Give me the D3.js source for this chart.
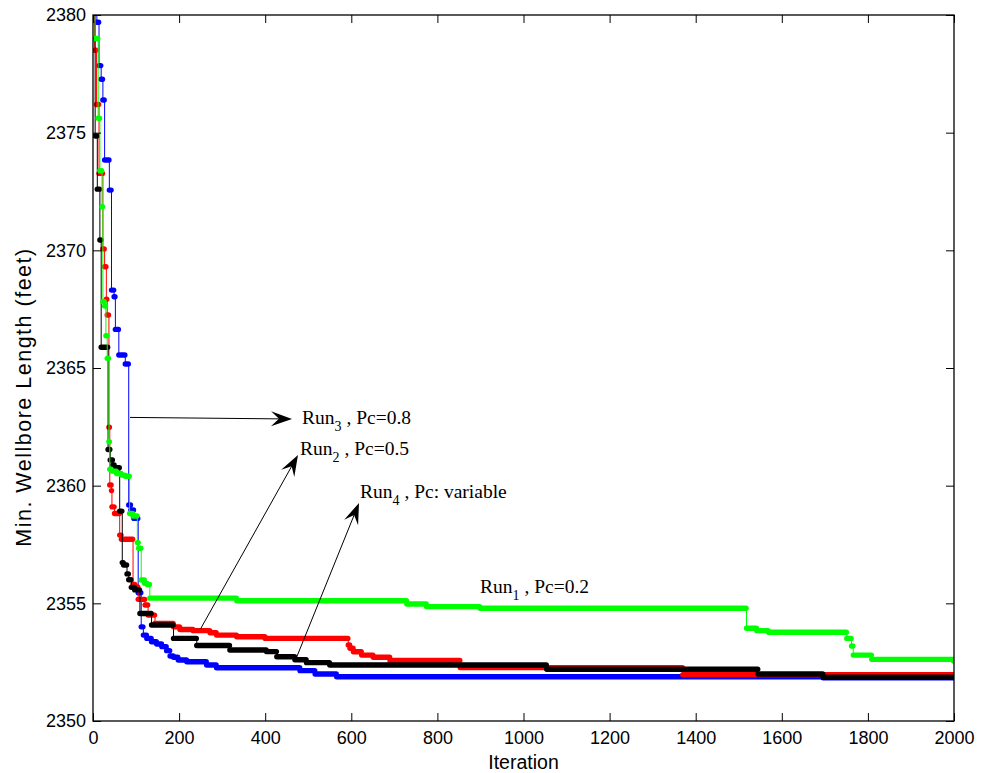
<!DOCTYPE html>
<html><head><meta charset="utf-8">
<script src="https://cdn.jsdelivr.net/npm/d3@7"></script>
<style>body{margin:0;background:#fff}svg{display:block}</style>
</head><body>
<script>
// ---- data: [iteration, best value] at each change of the running minimum ----
const run1Steps = [[1,2385],[5,2379],[12,2375.61],[16,2373.38],[21,2371.85],[23,2367.82],[27,2367.63],[30,2366.37],[33,2365.41],[37,2361.87],[39,2360.7],[43,2360.62],[55,2360.52],[66,2360.45],[75,2360.4],[85,2358.82],[93,2358.71],[103,2357.58],[106,2357.34],[112,2355.99],[120,2355.85],[126,2355.8],[132,2355.22],[334,2355.11],[729,2354.97],[775,2354.86],[899,2354.79],[1518,2353.94],[1542,2353.84],[1569,2353.77],[1751,2353.51],[1762,2353.19],[1766,2352.8],[1809,2352.62],[1999,2352.55]];
const run2Steps = [[1,2385],[4,2378.5],[8,2376.2],[14,2373.27],[23,2370.06],[27,2369.3],[31,2367.92],[33,2367.25],[37,2362.48],[39,2360.03],[43,2359.79],[44,2359.1],[50,2358.82],[62,2357.9],[66,2357.72],[93,2355.8],[98,2355.7],[105,2355.17],[121,2354.93],[128,2354.5],[144,2354.15],[187,2354.0],[202,2353.89],[233,2353.84],[272,2353.75],[287,2353.65],[334,2353.58],[400,2353.51],[593,2353.23],[597,2353.09],[605,2352.94],[624,2352.8],[651,2352.71],[690,2352.57],[853,2352.27],[1370,2351.97]];
const run3Steps = [[1,2384.5],[9,2379.69],[14,2377.85],[19,2377.27],[23,2376.39],[27,2373.84],[38,2372.56],[43,2368.31],[49,2368.03],[52,2366.64],[60,2365.55],[75,2365.17],[83,2359.18],[88,2358.97],[95,2358.61],[105,2355.45],[112,2354.0],[117,2353.65],[125,2353.51],[136,2353.37],[148,2353.27],[160,2353.16],[171,2352.99],[179,2352.76],[187,2352.71],[198,2352.59],[218,2352.52],[264,2352.38],[287,2352.26],[481,2352.14],[516,2352.0],[566,2351.88],[1696,2351.84]];
const run4Steps = [[1,2386],[5,2374.86],[10,2372.6],[16,2370.44],[19,2365.88],[35,2361.54],[40,2361.09],[46,2360.88],[50,2360.76],[62,2358.92],[68,2356.73],[71,2356.63],[79,2356.25],[83,2356.0],[89,2355.68],[97,2355.57],[109,2354.57],[136,2354.08],[187,2353.51],[241,2353.21],[318,2353.02],[403,2352.95],[427,2352.73],[469,2352.6],[496,2352.48],[550,2352.38],[1054,2352.2],[1545,2352.0],[1696,2351.86]];

const xTicks = [0,200,400,600,800,1000,1200,1400,1600,1800,2000];
const yTicks = [2350,2355,2360,2365,2370,2375,2380];
const xDomain = [0,2000], yDomain = [2350,2380];

const series = [
  {name:"Run3", steps:run3Steps, color:"#0000ff"},
  {name:"Run2", steps:run2Steps, color:"#ff0000"},
  {name:"Run4", steps:run4Steps, color:"#000000"},
  {name:"Run1", steps:run1Steps, color:"#00ff00"}
];

const annotations = [
  {run:"3", rest:" , Pc=0.8", tx:302, ty:424},
  {run:"2", rest:" , Pc=0.5", tx:300, ty:455},
  {run:"4", rest:" , Pc: variable", tx:360, ty:498},
  {run:"1", rest:" , Pc=0.2", tx:480, ty:593}
];

// ---- layout ----
const W = 989, H = 773;
const L = 93, R = 954, T = 15, B = 721;
const svg = d3.select("body").append("svg").attr("width", W).attr("height", H);
const x = d3.scaleLinear().domain(xDomain).range([L, R]);
const y = d3.scaleLinear().domain(yDomain).range([B, T]);

svg.append("defs").append("clipPath").attr("id","clip")
  .append("rect").attr("x", L).attr("y", T).attr("width", R-L).attr("height", B-T);

const plot = svg.append("g").attr("clip-path","url(#clip)");
const rad = 2.7;
series.forEach(s => {
  const pts = s.steps.concat([[2000, s.steps[s.steps.length-1][1]]]);
  const line = d3.line().x(d => x(d[0])).y(d => y(d[1])).curve(d3.curveStepAfter);
  const g = plot.append("g");
  g.append("path").attr("d", line(pts)).attr("fill","none").attr("stroke", s.color).attr("stroke-width", 1);
  s.steps.forEach((d, i) => {
    const end = i < s.steps.length-1 ? s.steps[i+1][0]-1 : 2000;
    if (end > d[0]) {
      g.append("line").attr("x1", x(d[0])).attr("x2", x(end)).attr("y1", y(d[1])).attr("y2", y(d[1]))
        .attr("stroke", s.color).attr("stroke-width", rad*2).attr("stroke-linecap","round");
    } else {
      g.append("circle").attr("cx", x(d[0])).attr("cy", y(d[1])).attr("r", rad).attr("fill", s.color);
    }
  });
});

// ---- axes ----
const font = "'Liberation Sans', Arial, Helvetica, sans-serif";
const axB = svg.append("g").attr("transform", `translate(0,${B})`)
  .call(d3.axisBottom(x).tickValues(xTicks).tickSizeInner(-8).tickSizeOuter(0).tickPadding(10).tickFormat(d3.format("d")));
const axT = svg.append("g").attr("transform", `translate(0,${T})`)
  .call(d3.axisTop(x).tickValues(xTicks).tickSizeInner(-8).tickSizeOuter(0).tickFormat(""));
const axL = svg.append("g").attr("transform", `translate(${L},0)`)
  .call(d3.axisLeft(y).tickValues(yTicks).tickSizeInner(-8).tickSizeOuter(0).tickPadding(7).tickFormat(d3.format("d")));
const axR = svg.append("g").attr("transform", `translate(${R},0)`)
  .call(d3.axisRight(y).tickValues(yTicks).tickSizeInner(-8).tickSizeOuter(0).tickFormat(""));
[axB, axT, axL, axR].forEach(a => {
  a.select(".domain").remove();
  a.selectAll("line").attr("stroke", "#000");
  a.selectAll("text").attr("font-family", font).attr("font-size", 18).attr("fill", "#000");
});
svg.append("rect").attr("x", L).attr("y", T).attr("width", R-L).attr("height", B-T)
  .attr("fill","none").attr("stroke","#000").attr("stroke-width",1.3);

svg.append("text").attr("x", (L+R)/2).attr("y", 769).attr("text-anchor","middle")
  .attr("font-family", font).attr("font-size", 19.5).text("Iteration");
svg.append("text").attr("transform", `translate(31,397) rotate(-90)`).attr("text-anchor","middle")
  .attr("font-family", font).attr("font-size", 21.5).attr("letter-spacing", 1.5).text("Min. Wellbore Length (feet)");

// ---- annotations ----
const serif = "'Liberation Serif', 'Times New Roman', serif";
const ann = svg.append("g");
annotations.forEach(a => {
  const t = ann.append("text").attr("x", a.tx).attr("y", a.ty).attr("font-family", serif).attr("font-size", 19.5).attr("fill","#000");
  t.append("tspan").text("Run");
  t.append("tspan").attr("font-size", 14).attr("dy", 7).text(a.run);
  t.append("tspan").attr("dy", -7).text(a.rest);
});
const arrowDefs = [
  {x1: x(86),  y1: y(2362.9), x2: 292, y2: 419},
  {x1: x(250), y1: y(2353.92), x2: 298, y2: 455},
  {x1: x(473), y1: y(2352.71), x2: 359, y2: 503}
];
arrowDefs.forEach(a => {
  const ang = Math.atan2(a.y2-a.y1, a.x2-a.x1);
  const Lh = 21, Wh = 15;
  ann.append("line").attr("x1", a.x1).attr("y1", a.y1)
    .attr("x2", a.x2 - Math.cos(ang)*Lh*0.6).attr("y2", a.y2 - Math.sin(ang)*Lh*0.6)
    .attr("stroke","#000").attr("stroke-width",1);
  ann.append("path").attr("d", `M0,0 L${-Lh},${-Wh/2} L${-Lh*0.62},0 L${-Lh},${Wh/2} Z`)
    .attr("transform", `translate(${a.x2},${a.y2}) rotate(${ang*180/Math.PI})`).attr("fill","#000");
});
</script>
</body></html>
